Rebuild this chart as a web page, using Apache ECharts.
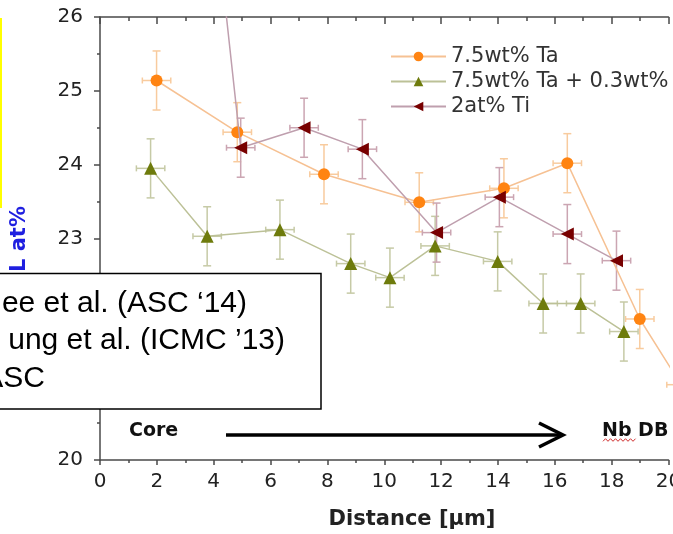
<!DOCTYPE html>
<html>
<head>
<meta charset="utf-8">
<script src="https://cdn.jsdelivr.net/npm/echarts@6/dist/echarts.min.js"></script>
<style>
  html, body { margin: 0; padding: 0; background: #fff; }
  #chart { width: 673px; height: 534px; }
</style>
</head>
<body>
<div id="chart"></div>
<script>
// Composition profile across the filament: distance [µm] vs. content [at%]
const seriesNames = ['7.5wt% Ta', '7.5wt% Ta + 0.3wt%', '2at% Ti'];

const taX = [1.99, 4.83, 7.88, 11.23, 14.21, 16.44, 18.99, 20.44];
const taY = [25.14, 24.44, 23.87, 23.49, 23.68, 24.02, 21.91, 21.02];

const taTiX = [1.78, 3.77, 6.33, 8.82, 10.20, 11.79, 13.99, 15.59, 16.91, 18.43];
const taTiY = [23.95, 23.03, 23.12, 22.66, 22.47, 22.90, 22.69, 22.12, 22.12, 21.74];

const tiX = [3.60, 4.95, 7.18, 9.23, 11.84, 14.05, 16.44, 18.17];
const tiY = [29.00, 24.23, 24.50, 24.21, 23.08, 23.56, 23.06, 22.70];

// error bars (half widths): distance and composition
const xErr = 0.5;
const yErr = 0.4;

const markerColors = ['#FF8412', '#6E7B0C', '#780000'];
const lineColors = ['#F6C193', '#BCC197', '#BF9FAE'];
const errColors = ['#F8CB9E', '#C6CAA6', '#CBA5B2'];

function pairs(xs, ys) { return xs.map((x, i) => [x, ys[i]]); }
function errData(xs, ys, from) {
  return xs.slice(from).map((x, i) => [x, ys[i + from], xErr, yErr]);
}

function errorBars(color) {
  return function (params, api) {
    const x = api.value(0), y = api.value(1), ex = api.value(2), ey = api.value(3);
    const c = api.coord([x, y]);
    const t = api.coord([x, y + ey]);
    const b = api.coord([x, y - ey]);
    const l = api.coord([x - ex, y]);
    const r = api.coord([x + ex, y]);
    const cw = 4, ch = 3;
    const seg = (x1, y1, x2, y2) => ({
      type: 'line',
      shape: { x1, y1, x2, y2 },
      style: { stroke: color, lineWidth: 1.5, fill: null }
    });
    return {
      type: 'group',
      children: [
        seg(c[0], t[1], c[0], b[1]),
        seg(c[0] - cw, t[1], c[0] + cw, t[1]),
        seg(c[0] - cw, b[1], c[0] + cw, b[1]),
        seg(l[0], c[1], r[0], c[1]),
        seg(l[0], c[1] - ch, l[0], c[1] + ch),
        seg(r[0], c[1] - ch, r[0], c[1] + ch)
      ]
    };
  };
}

const axisColor = '#4a4a4a';
const tickFont = { fontFamily: 'DejaVu Sans', fontSize: 20, color: '#222' };

// wavy underline under "Nb"
const wave = [];
for (let i = 0; i <= 13; i++) wave.push([603 + i * 2.5, 440 + (i % 2 ? -1.3 : 1.3)]);

const chart = echarts.init(document.getElementById('chart'), null, { renderer: 'canvas' });

const option = {
  animation: false,
  backgroundColor: '#fff',
  grid: { left: 100, top: 17, right: 4.5, bottom: 74, containLabel: false, outerBoundsMode: 'none' },
  legend: {
    data: seriesNames,
    orient: 'vertical',
    left: 385,
    top: 41,
    itemWidth: 55,
    itemHeight: 12,
    itemGap: 4,
    textStyle: { fontFamily: 'DejaVu Sans', fontSize: 21, color: '#333' }
  },
  xAxis: [
    {
      type: 'value', min: 0, max: 20, interval: 2, position: 'bottom',
      axisLine: { onZero: false, lineStyle: { color: axisColor, width: 1.5 } },
      axisTick: { length: 5, lineStyle: { color: axisColor, width: 1.5 } },
      minorTick: { show: true, splitNumber: 2, length: 3, lineStyle: { color: axisColor, width: 1.5 } },
      axisLabel: Object.assign({ margin: 12 }, tickFont),
      splitLine: { show: false }
    },
    {
      type: 'value', min: 0, max: 20, interval: 2, position: 'top',
      axisLine: { onZero: false, lineStyle: { color: axisColor, width: 1.5 } },
      axisTick: { inside: true, length: 7, lineStyle: { color: axisColor, width: 1.5 } },
      minorTick: { show: true, splitNumber: 2, length: 4, lineStyle: { color: axisColor, width: 1.5 } },
      axisLabel: { show: false },
      splitLine: { show: false }
    }
  ],
  yAxis: {
    type: 'value', min: 20, max: 26, interval: 1,
    axisLine: { show: true, onZero: false, lineStyle: { color: axisColor, width: 1.5 } },
    axisTick: { show: true, length: 6, lineStyle: { color: axisColor, width: 1.5 } },
    minorTick: { show: true, splitNumber: 2, length: 3, lineStyle: { color: axisColor, width: 1.5 } },
    axisLabel: Object.assign({ margin: 17 }, tickFont),
    splitLine: { show: false }
  },
  series: [
    {
      type: 'custom', name: 'err-ta', renderItem: errorBars(errColors[0]),
      data: errData(taX, taY, 0), encode: { x: 0, y: 1 }, z: 1, silent: true
    },
    {
      type: 'custom', name: 'err-tati', renderItem: errorBars(errColors[1]),
      data: errData(taTiX, taTiY, 0), encode: { x: 0, y: 1 }, z: 1, silent: true
    },
    {
      type: 'custom', name: 'err-ti', renderItem: errorBars(errColors[2]),
      data: errData(tiX, tiY, 1), encode: { x: 0, y: 1 }, z: 1, silent: true
    },
    {
      name: seriesNames[0], type: 'line', data: pairs(taX, taY), clip: false,
      symbol: 'circle', symbolSize: 12,
      itemStyle: { color: markerColors[0] },
      lineStyle: { color: lineColors[0], width: 1.5 }, z: 3
    },
    {
      name: seriesNames[1], type: 'line', data: pairs(taTiX, taTiY),
      symbol: 'triangle', symbolSize: 13,
      itemStyle: { color: markerColors[1] },
      lineStyle: { color: lineColors[1], width: 1.5 }, z: 3
    },
    {
      name: seriesNames[2], type: 'line', data: pairs(tiX, tiY), clip: true,
      symbol: 'triangle', symbolSize: 13, symbolRotate: 90,
      itemStyle: { color: markerColors[2] },
      lineStyle: { color: lineColors[2], width: 1.5 }, z: 4
    }
  ],
  graphic: [
    // yellow frame edge at the left
    { type: 'rect', shape: { x: 0, y: 18, width: 2, height: 190 }, style: { fill: '#FFFF00' }, z: 50 },
    // axis titles
    {
      type: 'text', x: 20, y: 272, rotation: Math.PI / 2, z: 50,
      style: { text: 'L at%', fontFamily: 'DejaVu Sans', fontWeight: 'bold', fontSize: 21, fill: '#1F1FE0', align: 'left', verticalAlign: 'middle' }
    },
    {
      type: 'text', x: 412, y: 520, z: 50,
      style: { text: 'Distance [\u03BCm]', fontFamily: 'DejaVu Sans', fontWeight: 'bold', fontSize: 21, fill: '#222', align: 'center', verticalAlign: 'middle' }
    },
    // core -> Nb diffusion barrier direction
    {
      type: 'text', x: 129, y: 431, z: 50,
      style: { text: 'Core', fontFamily: 'DejaVu Sans', fontWeight: 'bold', fontSize: 19, fill: '#111', align: 'left', verticalAlign: 'middle' }
    },
    {
      type: 'line', shape: { x1: 226, y1: 435, x2: 561, y2: 435 }, z: 50,
      style: { stroke: '#000', lineWidth: 3.5 }
    },
    {
      type: 'polyline', shape: { points: [[539, 423], [563, 435], [539, 447]] }, z: 50,
      style: { stroke: '#000', lineWidth: 3.5, fill: null, lineJoin: 'miter' }
    },
    {
      type: 'text', x: 602, y: 431, z: 50,
      style: { text: 'Nb DB', fontFamily: 'DejaVu Sans', fontWeight: 'bold', fontSize: 19, fill: '#111', align: 'left', verticalAlign: 'middle' }
    },
    {
      type: 'polyline', shape: { points: wave }, z: 50,
      style: { stroke: '#D03030', lineWidth: 1, fill: null }
    },
    // reference box
    {
      type: 'rect', shape: { x: -3, y: 273.5, width: 324, height: 135.5 }, z: 100,
      style: { fill: '#fff', stroke: '#000', lineWidth: 1.5 }
    },
    {
      type: 'text', x: 247, y: 304, z: 101,
      style: { text: 'ee et al. (ASC \u201814)', fontFamily: 'Liberation Sans', fontSize: 30, fill: '#000', align: 'right', verticalAlign: 'middle' }
    },
    {
      type: 'text', x: 285, y: 341, z: 101,
      style: { text: 'ung et al. (ICMC \u201913)', fontFamily: 'Liberation Sans', fontSize: 30, fill: '#000', align: 'right', verticalAlign: 'middle' }
    },
    {
      type: 'text', x: 45, y: 379, z: 101,
      style: { text: 'ASC', fontFamily: 'Liberation Sans', fontSize: 30, fill: '#000', align: 'right', verticalAlign: 'middle' }
    }
  ]
};

chart.setOption(option);
</script>
</body>
</html>
